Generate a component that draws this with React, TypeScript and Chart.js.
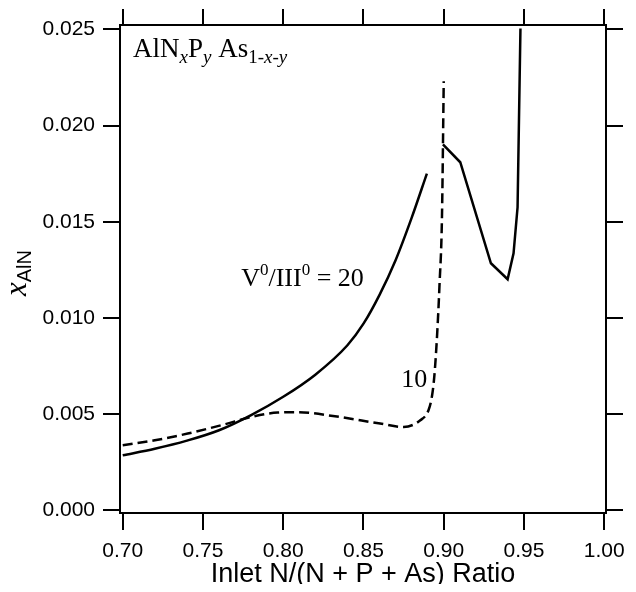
import React, { useEffect, useRef } from "react";
import { Chart, registerables } from "chart.js";

Chart.register(...registerables);

// ---- data ----
const ratio20X = [0.7, 0.72, 0.74, 0.76, 0.78, 0.8, 0.82, 0.84, 0.85, 0.86, 0.87, 0.88, 0.8895];
const ratio20Y = [0.00286, 0.0032, 0.00362, 0.00416, 0.00495, 0.0059, 0.00705, 0.00858, 0.0097, 0.0112, 0.013, 0.0152, 0.0175];

const ratio20HighX = [0.8995, 0.9103, 0.9294, 0.9398, 0.9435, 0.946, 0.9478];
const ratio20HighY = [0.01902, 0.01809, 0.01284, 0.01201, 0.01336, 0.01575, 0.02504];

const ratio10X = [0.7, 0.72, 0.7405, 0.7613, 0.782, 0.7966, 0.8091, 0.831, 0.8604, 0.875, 0.8854, 0.8905, 0.8926, 0.8941, 0.8958, 0.8974, 0.8989, 0.9];
const ratio10Y = [0.00338, 0.00364, 0.00399, 0.00442, 0.00489, 0.00508, 0.0051, 0.0049, 0.00451, 0.00433, 0.00468, 0.0052, 0.00589, 0.00693, 0.00901, 0.01178, 0.01525, 0.0223];

const xTickValues = [0.7, 0.75, 0.8, 0.85, 0.9, 0.95, 1.0];
const xTickLabels = ["0.70", "0.75", "0.80", "0.85", "0.90", "0.95", "1.00"];
const yTickValues = [0, 0.005, 0.01, 0.015, 0.02, 0.025];
const yTickLabels = ["0.000", "0.005", "0.010", "0.015", "0.020", "0.025"];

const X_MIN = 0.6983;
const X_MAX = 1.0011;
const Y_MIN = -0.00014;
const Y_MAX = 0.025224;

const SERIF = '"Liberation Serif", "Times New Roman", serif';
const SANS = '"Liberation Sans", Arial, Helvetica, sans-serif';

type Run = { t: string; font: string; dy: number };

function runsWidth(ctx: CanvasRenderingContext2D, runs: Run[]) {
  let w = 0;
  for (const r of runs) {
    ctx.font = r.font;
    w += ctx.measureText(r.t).width;
  }
  return w;
}

function drawRuns(ctx: CanvasRenderingContext2D, runs: Run[], x: number, y: number) {
  let cx = x;
  for (const r of runs) {
    ctx.font = r.font;
    ctx.fillText(r.t, cx, y + r.dy);
    cx += ctx.measureText(r.t).width;
  }
}

const zip = (xs: number[], ys: number[]) => xs.map((x, i) => ({ x, y: ys[i] }));

const textPlugin = {
  id: "texts",
  afterDraw(chart: any) {
    const ctx: CanvasRenderingContext2D = chart.ctx;
    const xs = chart.scales.x;
    const ys = chart.scales.y;
    const area = chart.chartArea;
    ctx.save();
    ctx.fillStyle = "#000";
    ctx.textBaseline = "alphabetic";
    ctx.textAlign = "left";

    const big = `26px ${SERIF}`;
    const lab = `27px ${SERIF}`;
    const sub = `19px ${SERIF}`;
    const subI = `italic 19px ${SERIF}`;

    // compound label
    drawRuns(
      ctx,
      [
        { t: "AlN", font: lab, dy: 0 },
        { t: "x", font: subI, dy: 6 },
        { t: "P", font: lab, dy: 0 },
        { t: "y", font: subI, dy: 6 },
        { t: " As", font: lab, dy: 0 },
        { t: "1-", font: sub, dy: 6 },
        { t: "x", font: subI, dy: 6 },
        { t: "-", font: sub, dy: 6 },
        { t: "y", font: subI, dy: 6 },
      ],
      xs.getPixelForValue(0.7064),
      ys.getPixelForValue(0.02355)
    );

    // V0/III0 = 20
    drawRuns(
      ctx,
      [
        { t: "V", font: big, dy: 0 },
        { t: "0", font: `17px ${SERIF}`, dy: -11 },
        { t: "/III", font: big, dy: 0 },
        { t: "0", font: `17px ${SERIF}`, dy: -11 },
        { t: " = 20", font: big, dy: 0 },
      ],
      xs.getPixelForValue(0.7738),
      ys.getPixelForValue(0.01164)
    );

    // 10
    drawRuns(ctx, [{ t: "10", font: big, dy: 0 }], xs.getPixelForValue(0.8735), ys.getPixelForValue(0.00639));

    // x-axis title
    ctx.font = `27px ${SANS}`;
    ctx.textAlign = "center";
    ctx.fillText("Inlet N/(N + P + As) Ratio", (area.left + area.right) / 2, 573.5);
    ctx.textAlign = "left";

    // y-axis title (rotated)
    const yRuns: Run[] = [
      { t: "x", font: `italic 31px ${SERIF}`, dy: 0 },
      { t: "AlN", font: `20px ${SANS}`, dy: 5 },
    ];
    const w = runsWidth(ctx, yRuns);
    ctx.translate(18, 265 + w / 2);
    ctx.rotate(-Math.PI / 2);
    drawRuns(ctx, yRuns, 0, 0);
    ctx.restore();
  },
};

const gridCommon = (len: number) => ({
  drawOnChartArea: false,
  drawTicks: true,
  tickLength: len,
  tickWidth: 2,
  tickColor: "#000",
  color: "#000",
  lineWidth: 2,
});
const borderCommon = { display: true, color: "#000", width: 2 };

const fixSize = (dim: "width" | "height", v: number) => (s: any) => {
  s[dim] = v;
  s.paddingLeft = 0;
  s.paddingRight = 0;
  s.paddingTop = 0;
  s.paddingBottom = 0;
};

export default function App() {
  const ref = useRef<HTMLCanvasElement>(null);

  useEffect(() => {
    if (!ref.current) return;
    const tickFont = { family: SANS, size: 21 };
    const chart = new Chart(ref.current, {
      type: "line",
      data: {
        datasets: [
          {
            label: "V0/III0 = 20",
            data: zip(ratio20X, ratio20Y),
            borderColor: "#000",
            borderWidth: 2.5,
            pointRadius: 0,
            cubicInterpolationMode: "monotone",
            fill: false,
            xAxisID: "x",
            yAxisID: "y",
          },
          {
            label: "V0/III0 = 20 (high N)",
            data: zip(ratio20HighX, ratio20HighY),
            borderColor: "#000",
            borderWidth: 2.5,
            pointRadius: 0,
            tension: 0,
            fill: false,
            xAxisID: "x",
            yAxisID: "y",
          },
          {
            label: "V0/III0 = 10",
            data: zip(ratio10X, ratio10Y),
            borderColor: "#000",
            borderWidth: 2.5,
            borderDash: [10, 5],
            pointRadius: 0,
            cubicInterpolationMode: "monotone",
            fill: false,
            xAxisID: "x",
            yAxisID: "y",
          },
        ],
      },
      options: {
        animation: false,
        responsive: false,
        devicePixelRatio: 1,
        layout: { padding: 0 },
        plugins: { legend: { display: false }, tooltip: { enabled: false } },
        scales: {
          x: {
            type: "linear",
            position: "bottom",
            min: X_MIN,
            max: X_MAX,
            afterBuildTicks: (s: any) => {
              s.ticks = xTickValues.map((v) => ({ value: v }));
            },
            afterFit: fixSize("height", 79),
            ticks: {
              callback: (v: any) => {
                const i = xTickValues.findIndex((t) => Math.abs(t - v) < 1e-9);
                return i >= 0 ? xTickLabels[i] : "";
              },
              font: tickFont,
              color: "#000",
              padding: 9,
              maxRotation: 0,
              autoSkip: false,
            },
            grid: gridCommon(17),
            border: borderCommon,
          },
          x2: {
            type: "linear",
            position: "top",
            min: X_MIN,
            max: X_MAX,
            afterBuildTicks: (s: any) => {
              s.ticks = xTickValues.map((v) => ({ value: v }));
            },
            afterFit: fixSize("height", 17),
            ticks: { display: false },
            grid: gridCommon(16),
            border: borderCommon,
          },
          y: {
            type: "linear",
            position: "left",
            min: Y_MIN,
            max: Y_MAX,
            afterBuildTicks: (s: any) => {
              s.ticks = yTickValues.map((v) => ({ value: v }));
            },
            afterFit: fixSize("width", 112),
            ticks: {
              callback: (v: any) => {
                const i = yTickValues.findIndex((t) => Math.abs(t - v) < 1e-9);
                return i >= 0 ? yTickLabels[i] : "";
              },
              font: tickFont,
              color: "#000",
              padding: 8,
              autoSkip: false,
            },
            grid: gridCommon(17),
            border: borderCommon,
          },
          y2: {
            type: "linear",
            position: "right",
            min: Y_MIN,
            max: Y_MAX,
            afterBuildTicks: (s: any) => {
              s.ticks = yTickValues.map((v) => ({ value: v }));
            },
            afterFit: fixSize("width", 22),
            ticks: { display: false },
            grid: gridCommon(17),
            border: borderCommon,
          },
        },
      },
      plugins: [textPlugin],
    } as any);
    return () => chart.destroy();
  }, []);

  return (
    <div style={{ width: 620, height: 576, overflow: "visible" }}>
      <canvas ref={ref} width={620} height={584} style={{ display: "block" }} />
    </div>
  );
}
